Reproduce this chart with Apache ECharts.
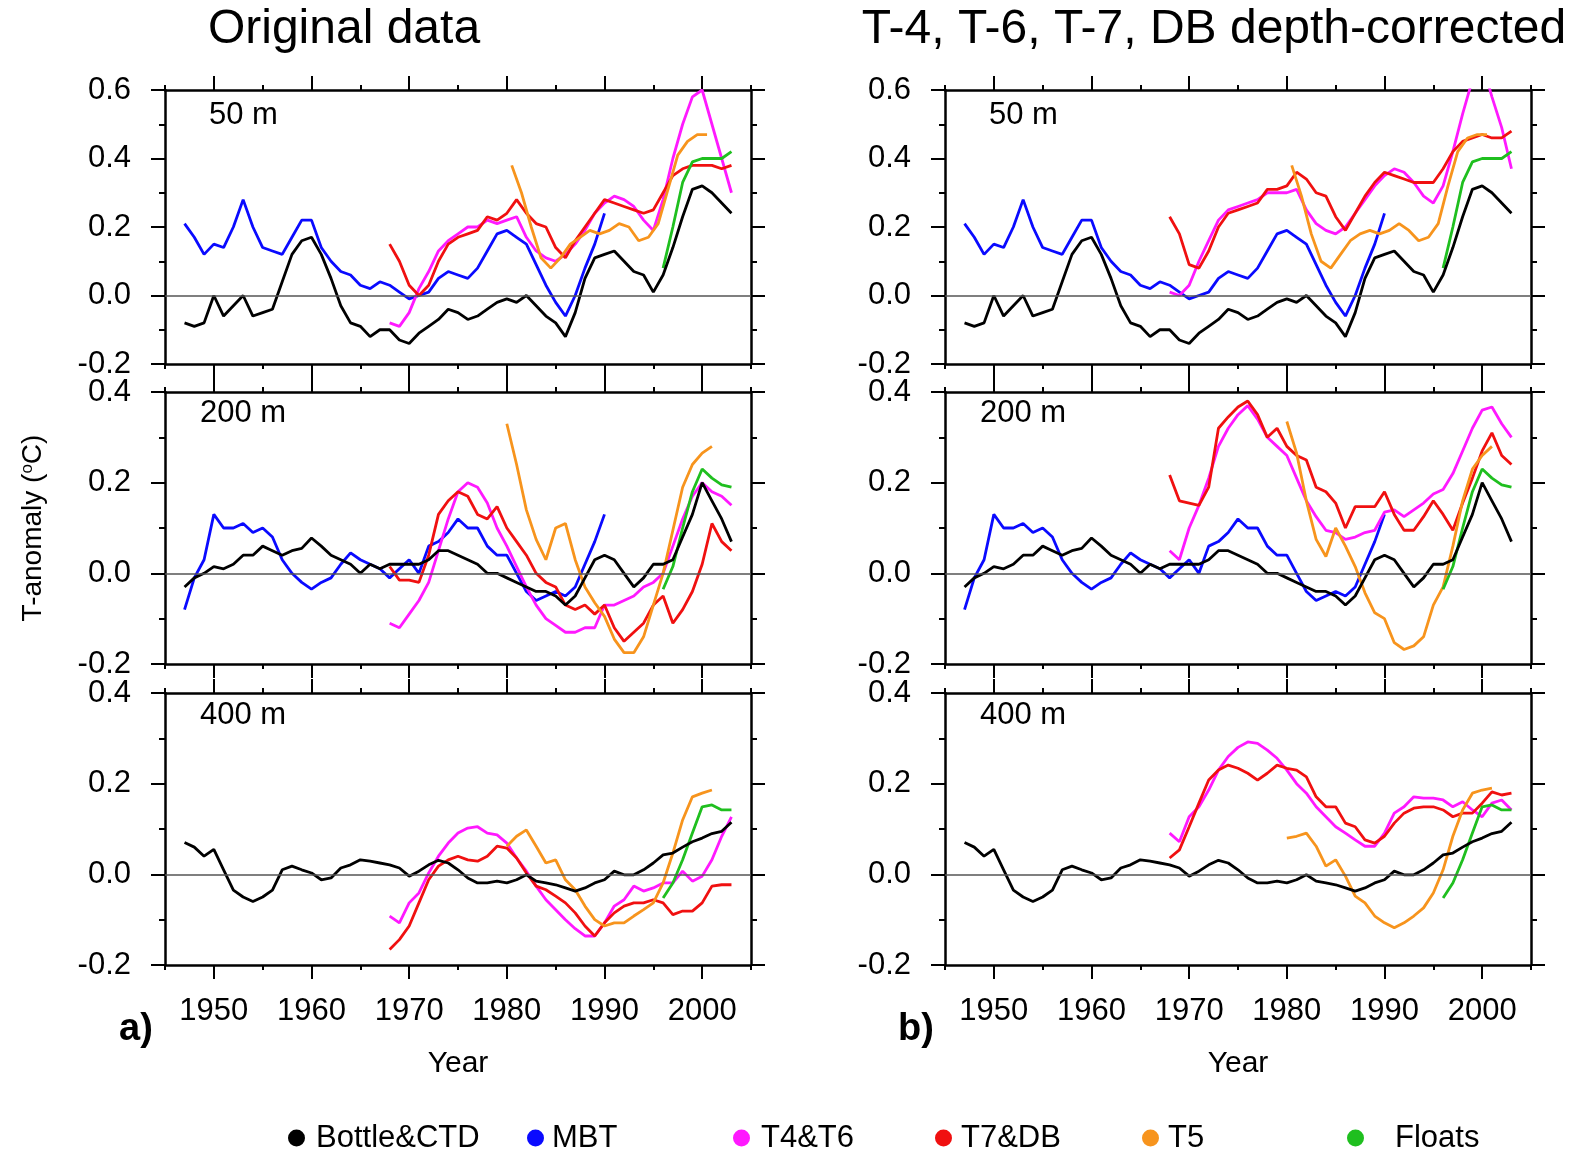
<!DOCTYPE html>
<html>
<head>
<meta charset="utf-8">
<title>T-anomaly</title>
<script src="https://cdn.jsdelivr.net/npm/echarts@6.0.0/dist/echarts.min.js"></script>
<style>
  html, body { margin: 0; padding: 0; background: #fff; }
  #chart { width: 1587px; height: 1154px; }
</style>
</head>
<body>
<div id="chart"></div>
<script>
// ---- data (annual values) ----
var decades = [1950, 1960, 1970, 1980, 1990, 2000];
var names = ['Bottle&CTD', 'MBT', 'T4&T6', 'T7&DB', 'T5', 'Floats'];
var colors = ['#000000', '#0a0aff', '#ff19ff', '#f01010', '#f7941d', '#1fbf1f'];
var depthLabels = ['50 m', '200 m', '400 m'];
var yMax = [0.6, 0.4, 0.4];
var t5Start = [1980.5, 1980, 1980];

// 50 m
var bottle50 = [-0.08, -0.09, -0.08, 0.00, -0.06, -0.03, 0.00, -0.06, -0.05, -0.04,
  0.04, 0.12, 0.16, 0.17, 0.12, 0.05, -0.03, -0.08, -0.09, -0.12,
  -0.10, -0.10, -0.13, -0.14, -0.11, -0.09, -0.07, -0.04, -0.05, -0.07,
  -0.06, -0.04, -0.02, -0.01, -0.02, 0.00, -0.03, -0.06, -0.08, -0.12,
  -0.05, 0.05, 0.11, 0.12, 0.13, 0.10, 0.07, 0.06, 0.01, 0.06,
  0.14, 0.23, 0.31, 0.32, 0.30, 0.27, 0.24];
var mbt50 = [0.21, 0.17, 0.12, 0.15, 0.14, 0.20, 0.28, 0.20, 0.14, 0.13,
  0.12, 0.17, 0.22, 0.22, 0.14, 0.10, 0.07, 0.06, 0.03, 0.02,
  0.04, 0.03, 0.01, -0.01, 0.00, 0.01, 0.05, 0.07, 0.06, 0.05,
  0.08, 0.13, 0.18, 0.19, 0.17, 0.15, 0.09, 0.03, -0.02, -0.06,
  0.00, 0.08, 0.15, 0.24];
var a50T46 = [-0.08, -0.09, -0.05, 0.02, 0.07, 0.13, 0.16, 0.18, 0.20, 0.20,
  0.22, 0.21, 0.22, 0.23, 0.17, 0.13, 0.11, 0.10, 0.12, 0.15,
  0.19, 0.24, 0.27, 0.29, 0.28, 0.26, 0.22, 0.19, 0.28, 0.40,
  0.50, 0.58, 0.60, 0.50, 0.40, 0.30];
var a50T7 = [0.15, 0.10, 0.03, 0.00, 0.03, 0.10, 0.15, 0.17, 0.18, 0.19,
  0.23, 0.22, 0.24, 0.28, 0.24, 0.21, 0.20, 0.14, 0.11, 0.16,
  0.20, 0.24, 0.28, 0.27, 0.26, 0.25, 0.24, 0.25, 0.30, 0.35,
  0.37, 0.38, 0.38, 0.38, 0.37, 0.38];
var a50T5 = [0.38, 0.30, 0.20, 0.11, 0.08, 0.11, 0.15, 0.17, 0.19, 0.18,
  0.19, 0.21, 0.20, 0.16, 0.17, 0.21, 0.31, 0.41, 0.45, 0.47, 0.47];
var floats50 = [0.08, 0.20, 0.33, 0.39, 0.40, 0.40, 0.40, 0.42];
var b50T46 = [0.01, 0.00, 0.03, 0.10, 0.16, 0.22, 0.25, 0.26, 0.27, 0.28,
  0.30, 0.30, 0.30, 0.31, 0.25, 0.21, 0.19, 0.18, 0.20, 0.24,
  0.28, 0.32, 0.35, 0.37, 0.36, 0.33, 0.29, 0.27, 0.32, 0.42,
  0.53, 0.63, 0.68, 0.58, 0.49, 0.37];
var b50T7 = [0.23, 0.18, 0.09, 0.08, 0.13, 0.20, 0.24, 0.25, 0.26, 0.27,
  0.31, 0.31, 0.32, 0.36, 0.34, 0.30, 0.29, 0.23, 0.19, 0.24,
  0.29, 0.33, 0.36, 0.35, 0.34, 0.33, 0.33, 0.33, 0.37, 0.42,
  0.45, 0.46, 0.47, 0.46, 0.46, 0.48];
var b50T5 = [0.38, 0.29, 0.18, 0.10, 0.08, 0.12, 0.16, 0.18, 0.19, 0.18,
  0.19, 0.21, 0.19, 0.16, 0.17, 0.21, 0.32, 0.42, 0.46, 0.47, 0.47];

// 200 m
var bottle200 = [-0.03, -0.01, 0.00, 0.015, 0.01, 0.02, 0.04, 0.04, 0.06, 0.05,
  0.04, 0.05, 0.055, 0.078, 0.06, 0.04, 0.03, 0.02, 0.00, 0.02,
  0.01, 0.02, 0.02, 0.02, 0.02, 0.03, 0.05, 0.05, 0.04, 0.03,
  0.02, 0.00, 0.00, -0.01, -0.02, -0.03, -0.04, -0.04, -0.05, -0.07,
  -0.05, -0.01, 0.03, 0.04, 0.03, 0.00, -0.03, -0.01, 0.02, 0.02,
  0.03, 0.08, 0.13, 0.20, 0.16, 0.12, 0.07];
var mbt200 = [-0.08, -0.01, 0.03, 0.13, 0.10, 0.10, 0.11, 0.09, 0.10, 0.08,
  0.03, 0.00, -0.02, -0.035, -0.02, -0.01, 0.02, 0.045, 0.03, 0.02,
  0.01, -0.01, 0.01, 0.03, 0.00, 0.06, 0.07, 0.09, 0.12, 0.10,
  0.10, 0.06, 0.04, 0.04, 0.00, -0.04, -0.06, -0.05, -0.04, -0.05,
  -0.03, 0.02, 0.07, 0.13];
var a200T46 = [-0.11, -0.12, -0.09, -0.06, -0.02, 0.05, 0.12, 0.18, 0.20, 0.19,
  0.155, 0.10, 0.06, 0.015, -0.03, -0.07, -0.10, -0.115, -0.13, -0.13,
  -0.12, -0.12, -0.07, -0.07, -0.06, -0.05, -0.03, -0.02, 0.00, 0.06,
  0.12, 0.17, 0.20, 0.18, 0.17, 0.15];
var a200T7 = [0.015, -0.015, -0.015, -0.02, 0.04, 0.13, 0.16, 0.18, 0.17, 0.13,
  0.12, 0.147, 0.10, 0.07, 0.04, 0.00, -0.02, -0.03, -0.07, -0.08,
  -0.07, -0.09, -0.07, -0.12, -0.15, -0.13, -0.11, -0.07, -0.05, -0.11,
  -0.08, -0.04, 0.02, 0.11, 0.07, 0.05];
var a200T5 = [0.33, 0.24, 0.14, 0.075, 0.03, 0.10, 0.11, 0.03, -0.03, -0.065,
  -0.095, -0.145, -0.175, -0.175, -0.14, -0.07, 0.00, 0.095, 0.19, 0.24,
  0.265, 0.28];
var floats200 = [-0.035, 0.015, 0.10, 0.18, 0.23, 0.21, 0.195, 0.19];
var b200T46 = [0.05, 0.03, 0.10, 0.15, 0.21, 0.28, 0.32, 0.35, 0.37, 0.34,
  0.30, 0.28, 0.26, 0.21, 0.16, 0.125, 0.095, 0.09, 0.075, 0.08,
  0.09, 0.095, 0.135, 0.14, 0.125, 0.14, 0.155, 0.175, 0.185, 0.22,
  0.27, 0.32, 0.36, 0.367, 0.33, 0.30];
var b200T7 = [0.217, 0.16, 0.155, 0.15, 0.19, 0.32, 0.345, 0.367, 0.38, 0.35,
  0.30, 0.32, 0.28, 0.26, 0.25, 0.19, 0.18, 0.155, 0.10, 0.147,
  0.147, 0.147, 0.18, 0.13, 0.095, 0.095, 0.125, 0.16, 0.13, 0.095,
  0.155, 0.21, 0.27, 0.31, 0.26, 0.24];
var b200T5 = [0.335, 0.265, 0.16, 0.075, 0.037, 0.10, 0.06, 0.015, -0.043, -0.087,
  -0.10, -0.153, -0.168, -0.16, -0.14, -0.07, -0.03, 0.06, 0.16, 0.23,
  0.26, 0.28];

// 400 m (no MBT)
var bottle400 = [0.07, 0.06, 0.04, 0.055, 0.01, -0.035, -0.05, -0.06, -0.05, -0.035,
  0.01, 0.018, 0.01, 0.003, -0.012, -0.008, 0.014, 0.021, 0.032, 0.029,
  0.025, 0.021, 0.014, -0.004, 0.007, 0.021, 0.031, 0.025, 0.01, -0.008,
  -0.019, -0.019, -0.015, -0.019, -0.012, -0.001, -0.015, -0.019, -0.023, -0.03,
  -0.037, -0.03, -0.019, -0.012, 0.007, -0.001, -0.001, 0.01, 0.025, 0.043,
  0.047, 0.06, 0.072, 0.08, 0.09, 0.095, 0.115];
var a400T46 = [-0.092, -0.107, -0.063, -0.041, 0.003, 0.04, 0.069, 0.091, 0.102, 0.105,
  0.091, 0.087, 0.069, 0.036, 0.007, -0.026, -0.056, -0.078, -0.10, -0.12,
  -0.136, -0.136, -0.107, -0.07, -0.056, -0.026, -0.037, -0.03, -0.019, -0.019,
  0.007, -0.015, -0.004, 0.032, 0.084, 0.127];
var a400T7 = [-0.166, -0.144, -0.114, -0.063, -0.012, 0.018, 0.032, 0.04, 0.032, 0.029,
  0.04, 0.062, 0.058, 0.036, 0.003, -0.026, -0.034, -0.048, -0.063, -0.085,
  -0.114, -0.136, -0.107, -0.085, -0.07, -0.063, -0.063, -0.056, -0.063, -0.089,
  -0.081, -0.081, -0.063, -0.026, -0.023, -0.023];
var a400T5 = [0.062, 0.084, 0.098, 0.062, 0.025, 0.032, -0.012, -0.034, -0.07, -0.10,
  -0.114, -0.107, -0.107, -0.092, -0.078, -0.063, -0.019, 0.047, 0.12, 0.171,
  0.179, 0.186];
var floats400 = [-0.052, -0.019, 0.032, 0.091, 0.149, 0.153, 0.142, 0.142];
var b400T46 = [0.091, 0.072, 0.127, 0.149, 0.186, 0.23, 0.26, 0.28, 0.292, 0.289,
  0.274, 0.256, 0.23, 0.20, 0.179, 0.149, 0.127, 0.105, 0.091, 0.076,
  0.062, 0.062, 0.091, 0.135, 0.149, 0.171, 0.168, 0.168, 0.164, 0.149,
  0.16, 0.142, 0.127, 0.157, 0.164, 0.142];
var b400T7 = [0.036, 0.054, 0.105, 0.157, 0.208, 0.23, 0.241, 0.234, 0.223, 0.208,
  0.223, 0.241, 0.234, 0.23, 0.215, 0.171, 0.149, 0.149, 0.113, 0.105,
  0.076, 0.069, 0.084, 0.113, 0.135, 0.146, 0.149, 0.149, 0.142, 0.127,
  0.135, 0.135, 0.157, 0.182, 0.175, 0.179];
var b400T5 = [0.08, 0.084, 0.091, 0.062, 0.018, 0.032, -0.004, -0.048, -0.063, -0.092,
  -0.107, -0.118, -0.107, -0.092, -0.074, -0.041, 0.01, 0.084, 0.142, 0.179,
  0.186, 0.19];

// panels: a) left column, b) right column
var panels = [
  { col: 0, row: 0, bottle: bottle50, mbt: mbt50, t46: a50T46, t7: a50T7, t5: a50T5, floats: floats50 },
  { col: 1, row: 0, bottle: bottle50, mbt: mbt50, t46: b50T46, t7: b50T7, t5: b50T5, floats: floats50 },
  { col: 0, row: 1, bottle: bottle200, mbt: mbt200, t46: a200T46, t7: a200T7, t5: a200T5, floats: floats200 },
  { col: 1, row: 1, bottle: bottle200, mbt: mbt200, t46: b200T46, t7: b200T7, t5: b200T5, floats: floats200 },
  { col: 0, row: 2, bottle: bottle400, mbt: null, t46: a400T46, t7: a400T7, t5: a400T5, floats: floats400 },
  { col: 1, row: 2, bottle: bottle400, mbt: null, t46: b400T46, t7: b400T7, t5: b400T5, floats: floats400 }
];

// ---- layout ----
var FONT = 'Liberation Sans, Arial, Helvetica, sans-serif';
var colLeft = [165, 945];
var rowTop = [90, 392, 693];
var rowH = [274, 272, 272];
var plotW = 586;

function pts(start, vals) {
  return vals.map(function (v, i) { return [start + i, v]; });
}

var chart = echarts.init(document.getElementById('chart'), null, { renderer: 'canvas' });

var grids = [], xAxes = [], yAxes = [], series = [];
var axisLine = { show: true, onZero: false, lineStyle: { color: '#000', width: 2.5 } };

panels.forEach(function (p, i) {
  grids.push({ left: colLeft[p.col], top: rowTop[p.row], width: plotW, height: rowH[p.row] });

  ['bottom', 'top'].forEach(function (pos) {
    xAxes.push({
      gridIndex: i, type: 'value', position: pos,
      min: 1945, max: 2005, interval: 10,
      axisLine: axisLine,
      axisTick: { show: true, inside: false, length: 5, lineStyle: { color: '#000', width: 2 } },
      minorTick: { show: true, splitNumber: 2, length: 14, lineStyle: { color: '#000', width: 2 } },
      splitLine: { show: false },
      minorSplitLine: { show: false },
      axisLabel: {
        show: pos === 'bottom' && p.row === 2,
        customValues: decades,
        margin: 31, fontSize: 31, color: '#000', fontFamily: FONT,
        formatter: function (v) { return String(v); }
      }
    });
  });
  ['left', 'right'].forEach(function (pos) {
    yAxes.push({
      gridIndex: i, type: 'value', position: pos,
      min: -0.2, max: yMax[p.row], interval: 0.2,
      axisLine: axisLine,
      axisTick: { show: true, inside: false, length: 14, lineStyle: { color: '#000', width: 2 } },
      minorTick: { show: true, splitNumber: 2, length: 6, lineStyle: { color: '#000', width: 2 } },
      splitLine: { show: false },
      axisLabel: {
        show: pos === 'left', margin: 34, fontSize: 31, color: '#000', fontFamily: FONT,
        formatter: function (v) { return v.toFixed(1); }
      }
    });
  });

  var list = [
    { name: names[1], color: colors[1], data: p.mbt ? pts(1947, p.mbt) : null },
    { name: names[2], color: colors[2], data: pts(1968, p.t46) },
    { name: names[3], color: colors[3], data: pts(1968, p.t7) },
    { name: names[4], color: colors[4], data: pts(t5Start[p.row], p.t5) },
    { name: names[5], color: colors[5], data: pts(1996, p.floats) },
    { name: names[0], color: colors[0], data: pts(1947, p.bottle) }
  ];
  var first = true;
  list.forEach(function (s) {
    if (!s.data) return;
    var ser = {
      type: 'line', name: s.name,
      xAxisIndex: 2 * i, yAxisIndex: 2 * i,
      data: s.data, showSymbol: false, symbol: 'none',
      lineStyle: { color: s.color, width: 2.8 },
      itemStyle: { color: s.color },
      clip: true, silent: true
    };
    if (first) {
      ser.markLine = {
        silent: true, symbol: 'none', animation: false,
        label: { show: false },
        lineStyle: { color: '#555', width: 1.5, type: 'solid' },
        data: [{ yAxis: 0 }]
      };
      first = false;
    }
    series.push(ser);
  });
});

// legend: one component per entry so each sits where the figure has it
var legendLeft = [288, 527, 733, 935, 1142, 1347];
var legendPad = [6, 3, 6, 4, 4, 26];
var legends = names.map(function (n, k) {
  return {
    left: legendLeft[k], top: 1122, padding: 0,
    data: [n], icon: 'circle', itemWidth: 17, itemHeight: 17,
    selectedMode: false,
    textStyle: { fontSize: 31, color: '#000', fontFamily: FONT, lineHeight: 32, padding: [0, 0, 0, legendPad[k]] }
  };
});

function txt(x, y, s, size, extra) {
  var style = { text: s, x: x, y: y, fill: '#000', font: size + 'px ' + FONT, textAlign: 'center', textVerticalAlign: 'middle' };
  if (extra) for (var k in extra) style[k] = extra[k];
  return { type: 'text', style: style, silent: true };
}

var graphics = [
  txt(344, 30, 'Original data', 48),
  txt(1214, 30, 'T-4, T-6, T-7, DB depth-corrected', 48),
  txt(136, 1030, 'a)', 38, { font: 'bold 38px ' + FONT }),
  txt(916, 1030, 'b)', 38, { font: 'bold 38px ' + FONT }),
  txt(458, 1064, 'Year', 30),
  txt(1238, 1064, 'Year', 30)
];
var labelX = [[209, 989], [200, 980], [200, 980]];
var labelY = [115, 413, 715];
depthLabels.forEach(function (d, r) {
  [0, 1].forEach(function (c) {
    graphics.push(txt(labelX[r][c], labelY[r], d, 31, { textAlign: 'left' }));
  });
});
graphics.push({
  type: 'text', silent: true, x: 33, y: 528, rotation: Math.PI / 2,
  style: {
    text: '{a|T-anomaly (}{s|o}{a|C)}',
    textAlign: 'center', textVerticalAlign: 'middle',
    rich: {
      a: { fontSize: 28, fontFamily: FONT, fill: '#000', color: '#000' },
      s: { fontSize: 17, fontFamily: FONT, fill: '#000', color: '#000', verticalAlign: 'top', padding: [0, 0, 10, 0] }
    }
  }
});

chart.setOption({
  animation: false,
  backgroundColor: '#fff',
  grid: grids,
  xAxis: xAxes,
  yAxis: yAxes,
  legend: legends,
  series: series,
  graphic: graphics
});
</script>
</body>
</html>
